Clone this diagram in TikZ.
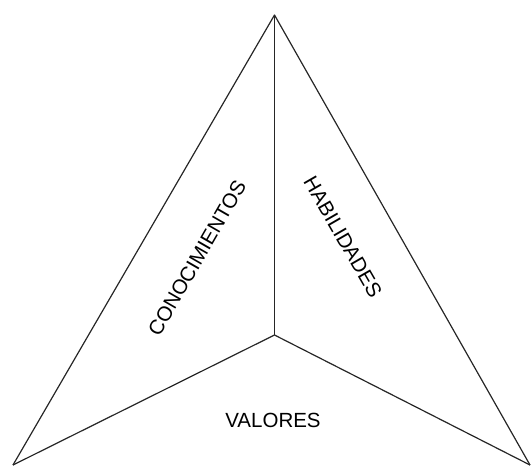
\documentclass[tikz,border=0pt]{standalone}
\usepackage{fontspec}
\setmainfont{Liberation Sans}
\tikzset{
  etiqueta/.style={font=\fontsize{20.5}{24}\selectfont, inner sep=0pt},
  arista/.style={draw=black!85, line width=1.2pt}
}
\begin{document}
\begin{tikzpicture}[x=1pt, y=-1pt, line join=round]
  \useasboundingbox (0,0) rectangle (531,467);
  % Vértices y centro
  \coordinate (arriba) at (274.5,15);
  \coordinate (izq) at (13,465);
  \coordinate (der) at (530,465);
  \coordinate (centro) at (274.5,335);
  % Lados (sin base)
  \draw[arista] (izq) -- (arriba) -- (der);
  % Divisiones desde el centro
  \draw[arista] (centro) -- (arriba);
  \draw[arista] (centro) -- (izq);
  \draw[arista] (centro) -- (der);
  % Textos
  \node[etiqueta, rotate=60] (conoc) at (197,258) {CONOCIMIENTOS};
  \node[etiqueta, rotate=-60] (habil) at (343,237) {HABILIDADES};
  \node[etiqueta] (valor) at (273,420) {VALORES};
\end{tikzpicture}
\end{document}
